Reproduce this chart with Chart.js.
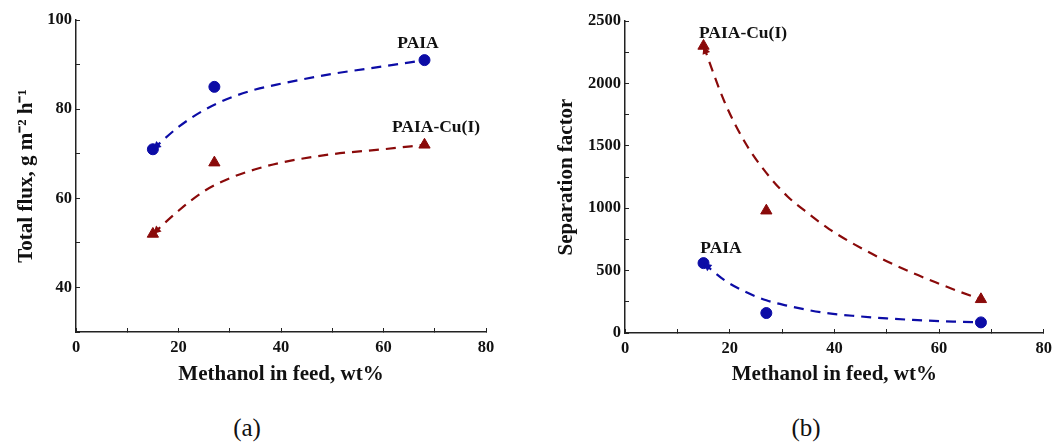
<!DOCTYPE html>
<html>
<head>
<meta charset="utf-8">
<script src="https://cdn.jsdelivr.net/npm/chart.js@4"></script>
<style>
    body { margin: 0; background: #fff; width: 1062px; height: 443px; overflow: hidden; position: relative; }
    canvas { position: absolute; top: 0; }
    #chart-a { left: 0; }
    #chart-b { left: 540px; }
    .label { position: absolute; font-family: 'Liberation Serif', serif; font-weight: bold; font-size: 17.5px; color: #111; transform: translate(-50%, -50%); white-space: nowrap; }
    .caption { position: absolute; font-family: 'Liberation Serif', serif; font-size: 25px; color: #111; transform: translate(-50%, -50%); }
</style>
</head>
<body>
<canvas id="chart-a" width="540" height="400"></canvas>
<canvas id="chart-b" width="522" height="400"></canvas>

<div class="label" style="left:418px; top:42px;">PAIA</div>
<div class="label" style="left:436px; top:126px;">PAIA-Cu(I)</div>
<div class="label" style="left:743px; top:32px;">PAIA-Cu(I)</div>
<div class="label" style="left:721px; top:247px;">PAIA</div>
<div class="caption" style="left:247px; top:428px;">(a)</div>
<div class="caption" style="left:806px; top:428px;">(b)</div>

<script>
// 측정값 (메탄올 함량, wt%)
const methanol = [15, 27, 68];

// (a) 총 투과 유량
const fluxPAIA = [71, 85, 91];
const fluxPAIACu = [52, 68, 72];

// (b) 분리 계수
const sepPAIA = [560, 160, 85];
const sepPAIACu = [2300, 980, 270];

// 추세선
const fitXA = [15, 20, 25, 30, 35, 40, 50, 60, 68];
const fluxFitPAIA = [71, 76, 79.8, 82.5, 84.4, 85.7, 87.9, 89.6, 91];
const fluxFitPAIACu = [52, 57.2, 61.6, 64.5, 66.5, 68, 69.9, 71, 72];

const fitXB = [15, 19, 23, 27, 31, 35, 39, 44, 50, 55, 60, 64, 68];
const sepFitPAIA = [560, 423, 330, 262, 219, 184, 157, 136, 117, 105, 95, 90, 85];
const sepFitPAIACu = [2300, 1853, 1522, 1283, 1096, 958, 833, 706, 575, 480, 395, 330, 270];

const BLUE = '#0c0ca6';
const RED = '#8a0a0a';
const AXIS = '#222';

function toPoints(xs, ys) {
    return xs.map((x, i) => ({ x: x, y: ys[i] }));
}

function fitDataset(xs, ys, color) {
    return {
        data: toPoints(xs, ys),
        showLine: true,
        borderColor: color,
        borderWidth: 2.2,
        borderDash: [10, 7],
        pointRadius: 0,
        cubicInterpolationMode: 'monotone',
        fill: false,
        isFit: true
    };
}

function markerDataset(ys, color, style) {
    return {
        data: toPoints(methanol, ys),
        showLine: false,
        pointStyle: style,
        pointRadius: style === 'triangle' ? 6.5 : 5.5,
        backgroundColor: color,
        borderColor: color,
        borderWidth: 1
    };
}

// 추세선 시작점의 화살표
const arrowPlugin = {
    id: 'fitArrow',
    afterDatasetsDraw(chart) {
        const ctx = chart.ctx;
        chart.data.datasets.forEach((ds, i) => {
            if (!ds.isFit) return;
            const pts = chart.getDatasetMeta(i).data;
            const p0 = pts[0], p1 = pts[1];
            const ang = Math.atan2(p0.y - p1.y, p0.x - p1.x);
            const len = 8, half = 4;
            ctx.save();
            ctx.fillStyle = ds.borderColor;
            ctx.translate(p0.x, p0.y);
            ctx.rotate(ang);
            ctx.beginPath();
            ctx.moveTo(0, 0);
            ctx.lineTo(-len, -half);
            ctx.lineTo(-len, half);
            ctx.closePath();
            ctx.fill();
            ctx.restore();
        });
    }
};

function makeOptions(cfg) {
    const tickFont = { family: 'Liberation Serif', weight: 'bold', size: 16.5 };
    const titleFont = { family: 'Liberation Serif', weight: 'bold', size: 21 };
    return {
        responsive: false,
        animation: false,
        layout: { padding: { top: cfg.top, right: cfg.right, left: 0, bottom: 0 } },
        plugins: { legend: { display: false }, tooltip: { enabled: false } },
        scales: {
            x: {
                type: 'linear',
                min: 0, max: 80,
                border: { color: AXIS, width: 1.5 },
                grid: { drawOnChartArea: false, drawTicks: true, tickLength: -4, color: AXIS },
                ticks: {
                    stepSize: 10, color: '#111', font: tickFont, padding: 10, maxRotation: 0,
                    callback: v => (v % 20 === 0 ? v : '')
                },
                title: { display: true, text: 'Methanol in feed, wt%', color: '#111', font: titleFont, padding: { top: 4, bottom: 13 } },
                afterFit: s => { s.height = cfg.xHeight; }
            },
            y: {
                type: 'linear',
                min: cfg.yMin, max: cfg.yMax,
                border: { color: AXIS, width: 1.5 },
                grid: { drawOnChartArea: false, drawTicks: true, tickLength: -4, color: AXIS },
                ticks: {
                    stepSize: cfg.yStep, color: '#111', font: tickFont, padding: 8,
                    callback: v => (v % cfg.yLabelStep === 0 ? v : '')
                },
                title: { display: true, text: cfg.yTitle, color: '#111', font: titleFont, padding: { top: cfg.yTitlePad, bottom: 2 } },
                afterFit: s => { s.width = cfg.yWidth; }
            }
        }
    };
}

new Chart(document.getElementById('chart-a'), {
    type: 'scatter',
    data: {
        datasets: [
            fitDataset(fitXA, fluxFitPAIA, BLUE),
            fitDataset(fitXA, fluxFitPAIACu, RED),
            markerDataset(fluxPAIA, BLUE, 'circle'),
            markerDataset(fluxPAIACu, RED, 'triangle')
        ]
    },
    options: makeOptions({
        top: 20, right: 54, xHeight: 68, yWidth: 76, yTitlePad: 14,
        yMin: 30, yMax: 100, yStep: 10, yLabelStep: 20,
        yTitle: 'Total flux, g m⁻² h⁻¹'
    }),
    plugins: [arrowPlugin]
});

new Chart(document.getElementById('chart-b'), {
    type: 'scatter',
    data: {
        datasets: [
            fitDataset(fitXB, sepFitPAIA, BLUE),
            fitDataset(fitXB, sepFitPAIACu, RED),
            markerDataset(sepPAIA, BLUE, 'circle'),
            markerDataset(sepPAIACu, RED, 'triangle')
        ]
    },
    options: makeOptions({
        top: 21, right: 13, xHeight: 67, yWidth: 85, yTitlePad: 14,
        yMin: 0, yMax: 2500, yStep: 250, yLabelStep: 500,
        yTitle: 'Separation factor'
    }),
    plugins: [arrowPlugin]
});
</script>
</body>
</html>
